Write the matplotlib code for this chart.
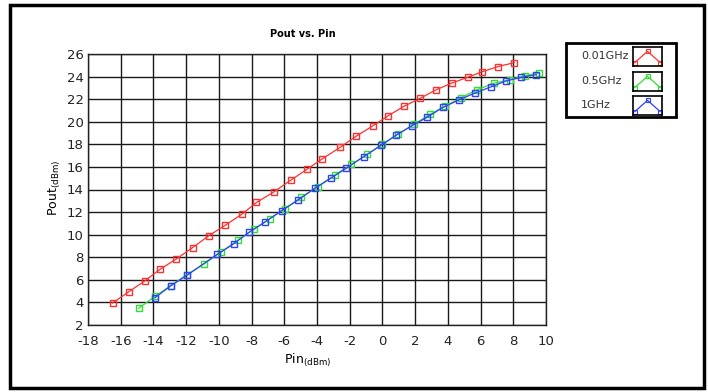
import matplotlib
matplotlib.use("Agg")
import matplotlib.pyplot as plt
from matplotlib.patches import Rectangle

# Pout vs Pin data
pin_001 = [-16.5, -15.5, -14.5, -13.6, -12.6, -11.6, -10.6, -9.6, -8.6, -7.7, -6.6, -5.6,
           -4.6, -3.7, -2.6, -1.6, -0.6, 0.35, 1.3, 2.3, 3.25, 4.25, 5.25, 6.1, 7.05, 8.05]
pout_001 = [3.95, 4.95, 5.93, 6.93, 7.85, 8.86, 9.92, 10.84, 11.81, 12.85, 13.82, 14.83,
            15.8, 16.69, 17.72, 18.73, 19.62, 20.53, 21.36, 22.07, 22.81, 23.43, 23.96, 24.43, 24.88, 25.23]

pin_05 = [-14.9, -13.9, -12.95, -11.95, -10.9, -9.85, -8.85, -7.85, -6.9, -5.95, -4.95, -3.95,
          -2.9, -1.9, -0.95, 0.0, 0.95, 1.95, 2.9, 3.85, 4.8, 5.8, 6.8, 7.8, 8.7, 9.6]
pout_05 = [3.48, 4.54, 5.49, 6.46, 7.41, 8.47, 9.51, 10.48, 11.4, 12.31, 13.32, 14.26,
           15.3, 16.22, 17.1, 18.02, 18.91, 19.79, 20.65, 21.39, 22.13, 22.84, 23.4, 23.72, 24.08, 24.34]

pin_1 = [-13.9, -12.95, -11.95, -10.1, -9.1, -8.15, -7.2, -6.15, -5.15, -4.15, -3.15, -2.2,
         -1.15, -0.1, 0.85, 1.8, 2.75, 3.7, 4.7, 5.65, 6.65, 7.55, 8.5, 9.4]
pout_1 = [4.42, 5.46, 6.4, 8.26, 9.18, 10.22, 11.1, 12.14, 13.08, 14.09, 15.0, 15.89,
          16.9, 17.9, 18.82, 19.64, 20.41, 21.27, 21.95, 22.54, 23.1, 23.61, 23.93, 24.17]

labels = ["0.01GHz", "0.5GHz", "1GHz"]
colors = ["#ff3030", "#30e030", "#3040ff"]

xticks = list(range(-18, 11, 2))
yticks = list(range(2, 27, 2))

plt.rcParams["font.family"] = "DejaVu Sans"
plt.rcParams["axes.unicode_minus"] = False

fig = plt.figure(figsize=(7.08, 3.92), dpi=100)
fig.patches.append(Rectangle((10 / 708, 4 / 392), 694 / 708, 383 / 392, transform=fig.transFigure,
                             fill=False, edgecolor="black", linewidth=2.5))

ax = fig.add_axes([88 / 708, 1 - 325 / 392, 458 / 708, 271 / 392])

series = [(pin_001, pout_001), (pin_05, pout_05), (pin_1, pout_1)]
for i in [0, 2, 1]:
    x, y = series[i]
    ax.plot(x, y, color=colors[i], lw=0.9, marker="s", ms=4.5, mfc="none", mew=1.0, zorder=3 + i)

ax.set_xlim(-18, 10)
ax.set_ylim(2, 26)
ax.set_xticks(xticks)
ax.set_yticks(yticks)
ax.grid(True, color="#1a1a1a", lw=1.0)
ax.tick_params(length=0, labelsize=9.5, colors="#222222")
ax.tick_params(axis="y", pad=3)
ax.tick_params(axis="x", pad=7)
for s in ax.spines.values():
    s.set_color("#222222")
    s.set_linewidth(1.0)

fig.text(303 / 708, 1 - 34 / 392, "Pout vs. Pin", ha="center", va="center", fontsize=7, fontweight="bold")
fig.text(308 / 708, 1 - 360 / 392, "Pin$_{\\mathregular{(dBm)}}$", ha="center", va="center", fontsize=9)
fig.text(55 / 708, 1 - 188 / 392, "Pout$_{\\mathregular{(dBm)}}$", ha="center", va="center", fontsize=9, rotation=90)

# legend box drawn by hand
fig.patches.append(Rectangle((566 / 708, 1 - 117 / 392), 110 / 708, 74 / 392, transform=fig.transFigure,
                             fill=False, edgecolor="black", linewidth=2))
rows = [56, 81, 105]
for i, lab in enumerate(labels):
    fig.text(581 / 708, 1 - rows[i] / 392, lab, ha="left", va="center", fontsize=8, color="#333333")
    icon = fig.add_axes([633 / 708, 1 - (rows[i] + 10) / 392, 29 / 708, 19 / 392])
    icon.plot([0, 1, 2], [0.2, 0.85, 0.2], color=colors[i], lw=0.9, marker="s", ms=3, mfc="none", mew=0.8)
    icon.set_xlim(-0.15, 2.15)
    icon.set_ylim(0, 1.1)
    icon.set_xticks([])
    icon.set_yticks([])
    for s in icon.spines.values():
        s.set_linewidth(1.2)

fig.savefig("out.png", dpi=100)
